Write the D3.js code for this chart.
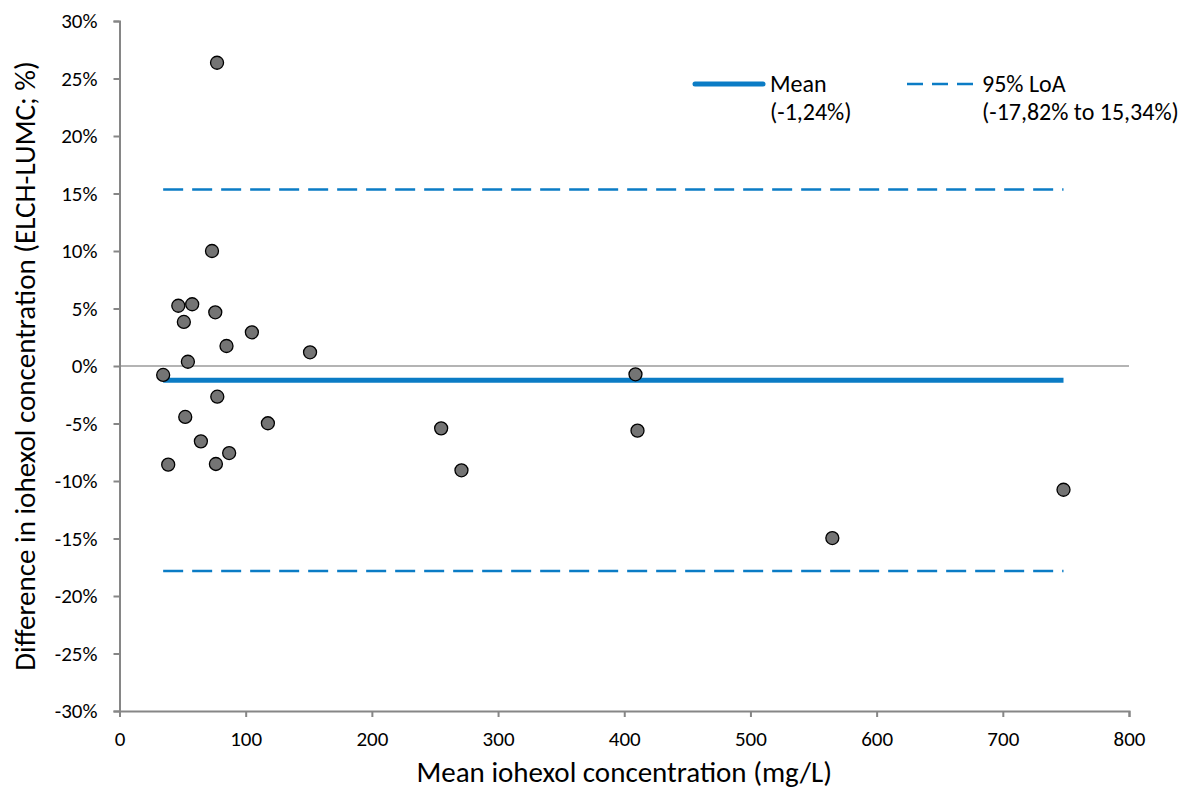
<!DOCTYPE html>
<html>
<head>
<meta charset="utf-8">
<script src="https://cdn.jsdelivr.net/npm/d3@7"></script>
<style>
  body { margin: 0; background: #fff; }
  text { font-family: Carlito, Lato, "Noto Sans", sans-serif; fill: #000; }
</style>
</head>
<body>
<div id="chart"></div>
<script>
// Data
var meanConc = [46.6, 57.6, 75.9, 51.0, 104.9, 84.8, 54.2, 34.6, 77.5, 52.1, 117.6, 64.5, 86.9, 38.6, 76.4,
                77.3, 73.3, 151.0, 254.9, 271.0, 408.9, 410.5, 564.9, 748.1];
var diffPct = [5.24, 5.37, 4.67, 3.83, 2.93, 1.74, 0.37, -0.78, -2.67, -4.43, -4.98, -6.55, -7.57, -8.58, -8.52,
               26.37, 10.0, 1.19, -5.42, -9.07, -0.72, -5.62, -14.96, -10.76];
var meanDiff = -1.24;
var loaLow = -17.82;
var loaHigh = 15.34;
var xTicks = [0, 100, 200, 300, 400, 500, 600, 700, 800];
var yTicks = [-30, -25, -20, -15, -10, -5, 0, 5, 10, 15, 20, 25, 30];

var svgWidth = 1187;
var svgHeight = 803;
var margin = { top: 21, right: 58, bottom: 92, left: 119.5 };
var width = svgWidth - margin.left - margin.right;
var height = svgHeight - margin.top - margin.bottom;

var blue = "#0b7cc5";
var axisGray = "#868686";

var svg = d3.select("#chart")
  .append("svg")
  .attr("width", svgWidth)
  .attr("height", svgHeight);

var chartGroup = svg.append("g")
  .attr("transform", `translate(${margin.left}, ${margin.top})`);

var x = d3.scaleLinear().domain([0, 800]).range([0, width]);
var y = d3.scaleLinear().domain([-30, 30]).range([height, 0]);

// zero line
chartGroup.append("line")
  .attr("x1", x(0)).attr("x2", x(800))
  .attr("y1", y(0)).attr("y2", y(0))
  .attr("stroke", "#b4b4b4")
  .attr("stroke-width", 2);

// axes
var leftAxis = d3.axisLeft(y).tickValues(yTicks).tickSize(6).tickPadding(16)
  .tickFormat(d => d + "%");
var bottomAxis = d3.axisBottom(x).tickValues(xTicks).tickSize(6).tickPadding(14);

var yAxisG = chartGroup.append("g").call(leftAxis);
var xAxisG = chartGroup.append("g")
  .attr("transform", `translate(0, ${height})`)
  .call(bottomAxis);

[yAxisG, xAxisG].forEach(function(g) {
  g.select(".domain").attr("stroke", axisGray).attr("stroke-width", 2);
  g.selectAll(".tick line").attr("stroke", axisGray).attr("stroke-width", 2);
  g.selectAll(".tick text").style("font-size", "21px").attr("fill", "#000");
});

// mean and limits of agreement lines span the data range
var xMin = d3.min(meanConc);
var xMax = d3.max(meanConc);

[loaHigh, loaLow].forEach(function(v) {
  chartGroup.append("line")
    .attr("x1", x(xMin)).attr("x2", x(xMax))
    .attr("y1", y(v)).attr("y2", y(v))
    .attr("stroke", blue)
    .attr("stroke-width", 2.5)
    .attr("stroke-dasharray", "20,9");
});

chartGroup.append("line")
  .attr("x1", x(xMin)).attr("x2", x(xMax))
  .attr("y1", y(meanDiff)).attr("y2", y(meanDiff))
  .attr("stroke", blue)
  .attr("stroke-width", 5);

// points
chartGroup.selectAll("circle")
  .data(meanConc)
  .enter()
  .append("circle")
  .attr("cx", d => x(d))
  .attr("cy", (d, i) => y(diffPct[i]))
  .attr("r", 6.5)
  .attr("fill", "#747474")
  .attr("stroke", "#000")
  .attr("stroke-width", 1.3);

// legend
var legend = svg.append("g");
legend.append("line")
  .attr("x1", 695).attr("x2", 763)
  .attr("y1", 84).attr("y2", 84)
  .attr("stroke", blue).attr("stroke-width", 5)
  .attr("stroke-linecap", "round");
legend.append("text").attr("x", 770).attr("y", 92).style("font-size", "24px").text("Mean");
legend.append("text").attr("x", 770).attr("y", 120).style("font-size", "24px").text("(-1,24%)");

legend.append("line")
  .attr("x1", 907).attr("x2", 976)
  .attr("y1", 84).attr("y2", 84)
  .attr("stroke", blue).attr("stroke-width", 2.5)
  .attr("stroke-dasharray", "16,9");
legend.append("text").attr("x", 982).attr("y", 92).style("font-size", "24px").text("95% LoA");
legend.append("text").attr("x", 982).attr("y", 120).style("font-size", "24px").text("(-17,82% to 15,34%)");

// axis titles
svg.append("text")
  .attr("transform", `translate(35, ${margin.top + height / 2}) rotate(-90)`)
  .attr("text-anchor", "middle")
  .style("font-size", "29px")
  .text("Difference in iohexol concentration (ELCH-LUMC; %)");

svg.append("text")
  .attr("x", margin.left + width / 2)
  .attr("y", 782)
  .attr("text-anchor", "middle")
  .style("font-size", "29px")
  .text("Mean iohexol concentration (mg/L)");
</script>
</body>
</html>
